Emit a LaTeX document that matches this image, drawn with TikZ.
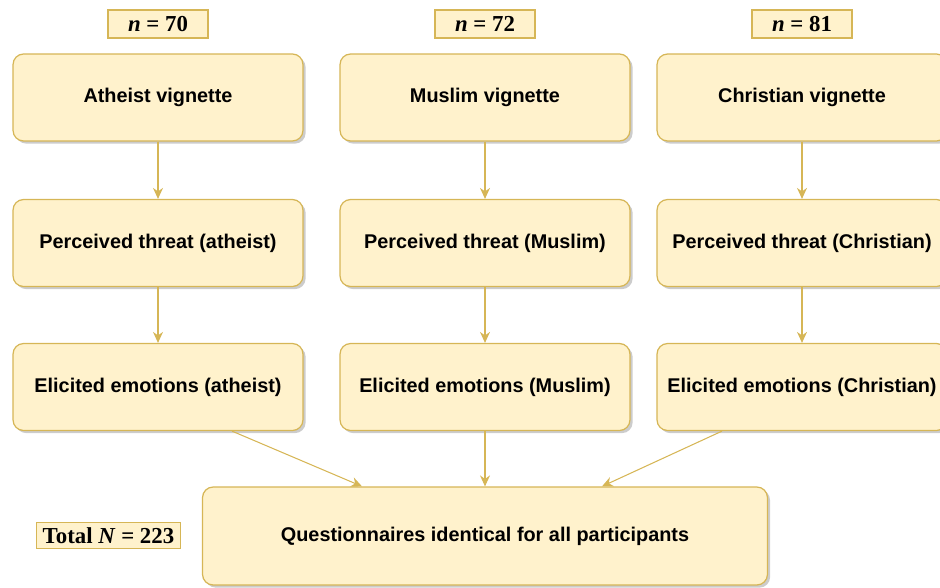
\documentclass[tikz,border=0pt]{standalone}
\usepackage{fontspec}
\setmainfont{Liberation Serif}
\setsansfont{Liberation Sans}
\usetikzlibrary{positioning, arrows.meta, shadows}

\definecolor{boxfill}{HTML}{FFF2CC}
\definecolor{boxline}{HTML}{D6B656}

\tikzset{
  stage/.style={draw=boxline, fill=boxfill, line width=0.7pt, rounded corners=6pt,
    minimum width=5.8cm, minimum height=1.74cm, inner sep=0pt,
    font=\sffamily\bfseries\fontsize{11.3}{13}\selectfont,
    drop shadow={shadow xshift=1.5pt, shadow yshift=-1.5pt, fill=black, opacity=0.2}},
  count/.style={draw=boxline, fill=boxfill, line width=0.6pt, inner xsep=3.5pt, inner ysep=3pt,
    font=\bfseries\fontsize{13}{15}\selectfont},
  flow/.style={draw=boxline, line width=0.6pt, -{Stealth[length=2.2mm, width=2mm]}}
}

\begin{document}
\begin{tikzpicture}[x=0.02cm, y=-0.02cm]
    \useasboundingbox (0,0) rectangle (940,588);

    % Three columns: vignette -> threat -> emotions
    \foreach \c/\x/\V/\v/\n in {a/158/Atheist/atheist/70, m/485/Muslim/Muslim/72, c/802/Christian/Christian/81} {
      \node[count, minimum width=2cm, minimum height=0.56cm] (\c0) at (\x,24) {\textit{n} = \n};
      \node[stage] (\c1) at (\x,97.5) {\V\ vignette};
      \node[stage] (\c2) at (\x,243) {Perceived threat (\v)};
      \node[stage] (\c3) at (\x,387) {Elicited emotions (\v)};

      \draw[flow] (\c1) -- (\c2);
      \draw[flow] (\c2) -- (\c3);
    }

    % Common questionnaire
    \node[stage, minimum width=11.3cm, minimum height=1.96cm] (q) at (485,536) {Questionnaires identical for all participants};
    \node[count] (tot) at (108.5,535.5) {Total \textit{N} = 223};

    \draw[flow] ([xshift=1.48cm]a3.south) -- ([xshift=-2.46cm]q.north);
    \draw[flow] (m3.south) -- (q.north);
    \draw[flow] ([xshift=-1.6cm]c3.south) -- ([xshift=2.34cm]q.north);
\end{tikzpicture}
\end{document}
